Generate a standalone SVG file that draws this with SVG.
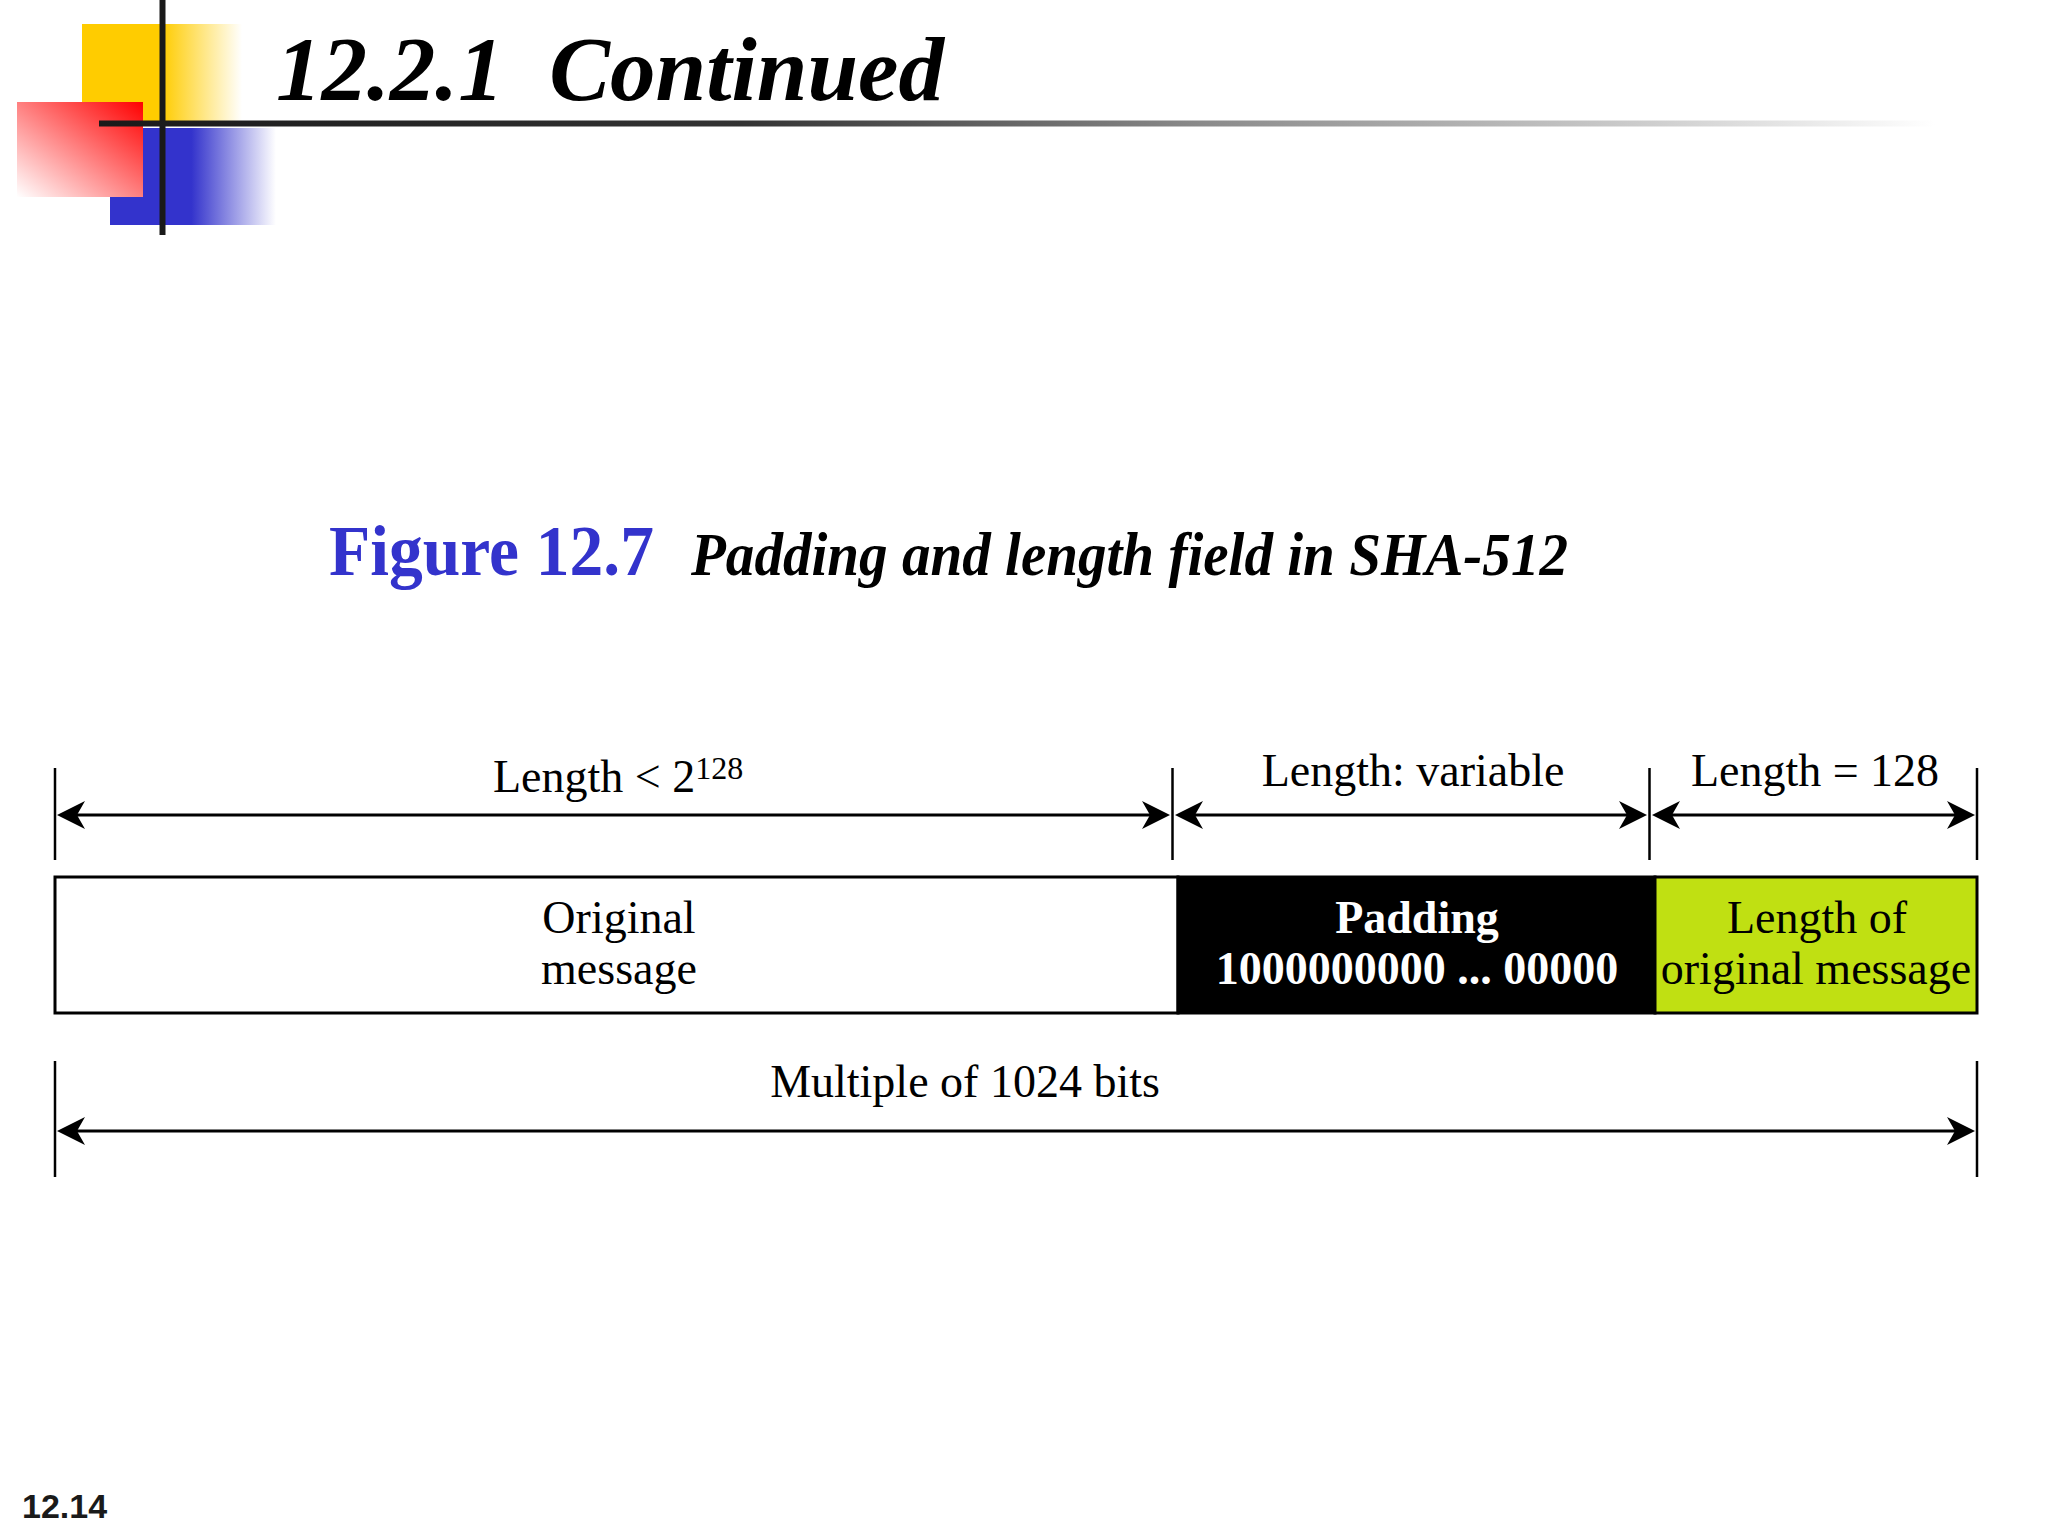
<svg xmlns="http://www.w3.org/2000/svg" width="2048" height="1536" viewBox="0 0 2048 1536">
  <defs>
    <linearGradient id="gYellow" x1="0" y1="0" x2="1" y2="0">
      <stop offset="0" stop-color="#FFCC00"/>
      <stop offset="0.5" stop-color="#FFCC00"/>
      <stop offset="1" stop-color="#FFFFFF"/>
    </linearGradient>
    <linearGradient id="gBlue" x1="0" y1="0" x2="1" y2="0">
      <stop offset="0" stop-color="#3333CC"/>
      <stop offset="0.49" stop-color="#3333CC"/>
      <stop offset="1" stop-color="#FFFFFF"/>
    </linearGradient>
    <linearGradient id="gRed" x1="1" y1="0" x2="0" y2="1">
      <stop offset="0" stop-color="#FF0000"/>
      <stop offset="1" stop-color="#FFFFFF"/>
    </linearGradient>
    <linearGradient id="gRule" gradientUnits="userSpaceOnUse" x1="99" y1="0" x2="1935" y2="0">
      <stop offset="0" stop-color="#1a1a1a"/>
      <stop offset="0.35" stop-color="#333333"/>
      <stop offset="0.6" stop-color="#8a8a8a"/>
      <stop offset="0.85" stop-color="#cfcfcf"/>
      <stop offset="1" stop-color="#ffffff"/>
    </linearGradient>
    <marker id="arrow" viewBox="0 0 28 28" refX="20" refY="14" markerWidth="28" markerHeight="28" markerUnits="userSpaceOnUse" orient="auto-start-reverse">
      <path d="M0,0 L28,14 L0,28 L8,14 Z" fill="#000"/>
    </marker>
    <style>
      .lbl { font-family: "Liberation Serif", "Times New Roman", serif; font-size: 46px; fill: #000; }
      .mid { text-anchor: middle; }
      .bold { font-weight: bold; }
      .white { fill: #fff; }
      .tick { stroke: #000; stroke-width: 2.5; fill: none; }
      .dim { stroke: #000; stroke-width: 3; fill: none; marker-start: url(#arrow); marker-end: url(#arrow); }
      .field { stroke: #000; stroke-width: 3; }
    </style>
  </defs>

  <rect width="2048" height="1536" fill="#ffffff"/>

  <!-- Logo decoration -->
  <g id="logo">
    <rect x="82" y="24" width="160" height="100" fill="url(#gYellow)"/>
    <rect x="110" y="128" width="166" height="97" fill="url(#gBlue)"/>
    <rect x="17" y="102" width="126" height="95" fill="url(#gRed)"/>
    <rect x="159.5" y="0" width="6" height="235" fill="#1a1a1a"/>
    <rect x="99" y="120.5" width="1836" height="6" fill="url(#gRule)"/>
  </g>

  <!-- Title -->
  <text id="title" x="276" y="100" font-family="Liberation Serif, 'Times New Roman', serif" font-size="92" font-weight="bold" font-style="italic" textLength="668" lengthAdjust="spacingAndGlyphs" style="white-space:pre">12.2.1  Continued</text>

  <!-- Caption -->
  <g id="caption">
    <text x="329" y="575" font-family="Liberation Serif, 'Times New Roman', serif" font-size="72" font-weight="bold" fill="#3333CC" textLength="325" lengthAdjust="spacingAndGlyphs">Figure 12.7</text>
    <text x="691" y="575" font-family="Liberation Serif, 'Times New Roman', serif" font-size="62" font-weight="bold" font-style="italic" fill="#000" textLength="877" lengthAdjust="spacingAndGlyphs">Padding and length field in SHA-512</text>
  </g>

  <!-- Fields -->
  <g id="original-message">
    <rect class="field" x="55" y="877" width="1123" height="136" fill="#ffffff"/>
    <text class="lbl mid" x="619" y="933">Original</text>
    <text class="lbl mid" x="619" y="984">message</text>
  </g>
  <g id="padding">
    <rect class="field" x="1178" y="877" width="477" height="136" fill="#000000"/>
    <text class="lbl mid bold white" x="1417" y="933">Padding</text>
    <text class="lbl mid bold white" x="1417" y="984" style="white-space:pre">1000000000 ... 00000</text>
  </g>
  <g id="length-field">
    <rect class="field" x="1655" y="877" width="322" height="136" fill="#C0E012"/>
    <text class="lbl mid" x="1817" y="933">Length of</text>
    <text class="lbl mid" x="1816" y="984">original message</text>
  </g>

  <!-- Dimension labels -->
  <g id="dim-labels">
    <text class="lbl" x="493" y="792">Length &lt; 2<tspan font-size="32" dy="-13">128</tspan></text>
    <text class="lbl mid" x="1413" y="786">Length: variable</text>
    <text class="lbl mid" x="1815" y="786">Length = 128</text>
    <text class="lbl mid" x="965" y="1097">Multiple of 1024 bits</text>
  </g>

  <!-- Connectors: dimension lines and ticks -->
  <g id="connectors">
    <line class="tick" x1="55" y1="768" x2="55" y2="860"/>
    <line class="tick" x1="1172.5" y1="768" x2="1172.5" y2="860"/>
    <line class="tick" x1="1649.5" y1="768" x2="1649.5" y2="860"/>
    <line class="tick" x1="1977" y1="768" x2="1977" y2="860"/>
    <line class="dim" x1="65" y1="815" x2="1162" y2="815"/>
    <line class="dim" x1="1183" y1="815" x2="1639" y2="815"/>
    <line class="dim" x1="1660" y1="815" x2="1967" y2="815"/>

    <line class="tick" x1="55" y1="1061" x2="55" y2="1177"/>
    <line class="tick" x1="1977" y1="1061" x2="1977" y2="1177"/>
    <line class="dim" x1="65" y1="1131" x2="1967" y2="1131"/>
  </g>

  <!-- Page number -->
  <text id="page-number" x="22" y="1518" font-family="Liberation Sans, Arial, sans-serif" font-size="34" font-weight="bold" fill="#1a1a1a">12.14</text>
</svg>
